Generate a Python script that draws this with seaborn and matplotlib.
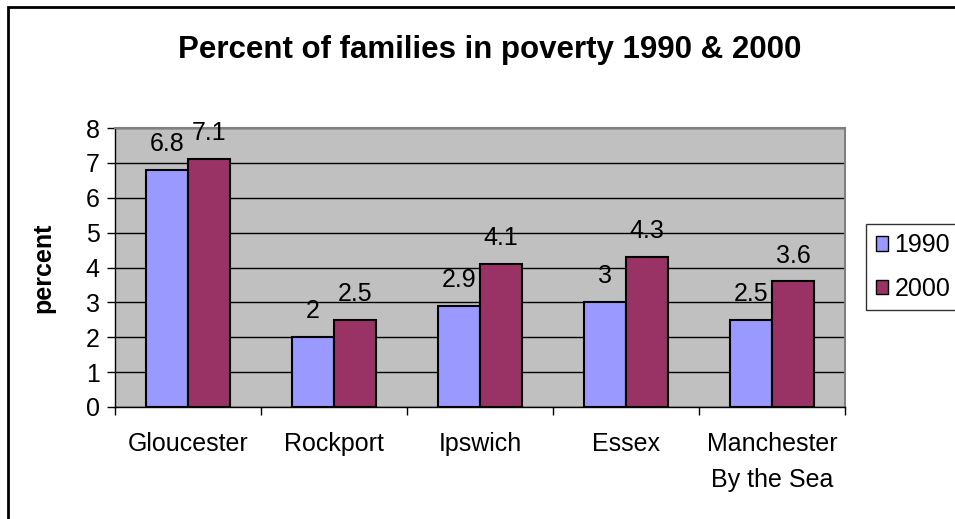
import matplotlib
matplotlib.use("Agg")
import matplotlib.pyplot as plt
from matplotlib.patches import Rectangle
from matplotlib.ticker import FixedLocator
import pandas as pd
import seaborn as sns

towns = ["Gloucester", "Rockport", "Ipswich", "Essex", "Manchester\nBy the Sea"]
pct_1990 = [6.8, 2.0, 2.9, 3.0, 2.5]
pct_2000 = [7.1, 2.5, 4.1, 4.3, 3.6]
years = ["1990", "2000"]
label_1990 = ["6.8", "2", "2.9", "3", "2.5"]
label_2000 = ["7.1", "2.5", "4.1", "4.3", "3.6"]
y_ticks = [0, 1, 2, 3, 4, 5, 6, 7, 8]

df = pd.DataFrame({
    "town": towns * 2,
    "year": [years[0]] * len(towns) + [years[1]] * len(towns),
    "percent": pct_1990 + pct_2000,
})

sns.set_theme(style="white")
plt.rcParams["font.family"] = ["Liberation Sans", "DejaVu Sans"]
plt.rcParams["text.color"] = "black"
plt.rcParams["axes.labelcolor"] = "black"
plt.rcParams["xtick.color"] = "black"
plt.rcParams["ytick.color"] = "black"

FS = 18

fig = plt.figure(figsize=(9.55, 5.19), dpi=100)
fig.patch.set_facecolor("white")
ax = fig.add_axes([115 / 955, 1 - 407 / 519, 730 / 955, 279 / 519])
ax.set_facecolor("#C0C0C0")

palette = {"1990": "#9999FF", "2000": "#993366"}
sns.barplot(data=df, x="town", y="percent", hue="year", palette=palette,
            width=0.575, gap=0, edgecolor="black", linewidth=1.5,
            saturation=1, ax=ax, legend=True, zorder=3)

ax.set_ylim(0, 8)
ax.set_xlim(-0.5, len(towns) - 0.5)
ax.set_yticks(y_ticks)
ax.grid(axis="y", color="black", linewidth=1, zorder=1)
ax.set_axisbelow(True)

# value labels above each bar
for container, labels in zip(ax.containers, [label_1990, label_2000]):
    ax.bar_label(container, labels=labels, padding=10, fontsize=FS, color="black")

# spines
for side in ["top", "right"]:
    ax.spines[side].set_color("#808080")
    ax.spines[side].set_linewidth(1.5)
for side in ["left", "bottom"]:
    ax.spines[side].set_color("black")
    ax.spines[side].set_linewidth(1)

ax.tick_params(axis="y", which="major", direction="out", length=6, width=1,
               color="black", labelsize=FS, pad=5, left=True)
ax.tick_params(axis="x", which="major", length=0, labelsize=FS, pad=18)
ax.xaxis.set_minor_locator(FixedLocator([i - 0.5 for i in range(len(towns) + 1)]))
ax.tick_params(axis="x", which="minor", direction="out", length=6, width=1,
               color="black", bottom=True)
for t in ax.get_xticklabels():
    t.set_linespacing(1.65)
    t.set_verticalalignment("top")

ax.set_xlabel("")
ax.set_ylabel("percent", fontsize=FS, fontweight="bold")
ax.yaxis.set_label_coords((55 - 115) / 730, 0.5)

fig.text(490 / 955, 1 - 50 / 519, "Percent of families in poverty 1990 & 2000",
         ha="center", va="center", fontsize=22.5, fontweight="bold")

handles, lbls = ax.get_legend_handles_labels()
ax.get_legend().remove()
leg = fig.legend(handles, lbls, loc="upper left",
                 bbox_to_anchor=(866 / 955, 1 - 224 / 519),
                 frameon=True, fancybox=False, fontsize=FS,
                 handlelength=0.5, handleheight=0.5, handletextpad=0.25,
                 borderpad=0.38, labelspacing=0.77, borderaxespad=0)
leg.get_frame().set_edgecolor("black")
leg.get_frame().set_linewidth(1)
for h in leg.legend_handles:
    h.set_edgecolor("black")
    h.set_linewidth(1)

# outer chart border
fig.patches.append(Rectangle((8 / 955, -0.1), 1.2, 1.1 - 7 / 519,
                             transform=fig.transFigure, fill=False,
                             edgecolor="black", linewidth=2, zorder=10))

fig.savefig("out.png", dpi=100)
